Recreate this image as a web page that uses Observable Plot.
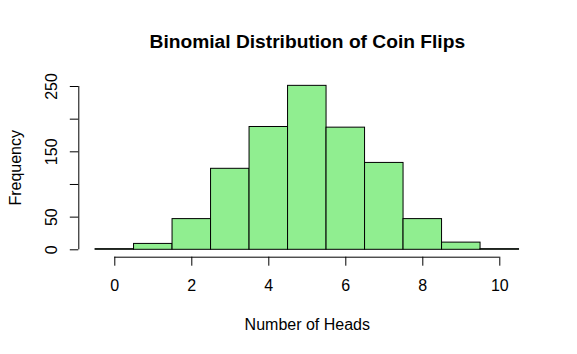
<!DOCTYPE html>
<html><head><meta charset="utf-8">
<script src="https://cdn.jsdelivr.net/npm/d3@7"></script>
<script src="https://cdn.jsdelivr.net/npm/@observablehq/plot@0.6"></script>
<style>body{margin:0;background:#fff}</style>
</head><body><div id="chart"></div>
<script>
const heads = [0, 1, 2, 3, 4, 5, 6, 7, 8, 9, 10];
const frequency = [1, 9, 47, 124, 188, 251, 187, 133, 47, 11, 1];
const xTicks = [0, 2, 4, 6, 8, 10];
const yTicks = [0, 50, 100, 150, 200, 250];
const yLabels = [0, 50, 150, 250];
const title = "Binomial Distribution of Coin Flips";
const xLabel = "Number of Heads";
const yLabel = "Frequency";

const bins = heads.map((h, i) => ({x1: h - 0.5, x2: h + 0.5, count: frequency[i]}));
const font = "'Liberation Sans', Arial, Helvetica, sans-serif";

const chart = Plot.plot({
  width: 577,
  height: 354,
  marginLeft: 78.3,
  marginRight: 41.7,
  marginTop: 47.7,
  marginBottom: 97.3,
  style: {fontFamily: font, fontSize: "16px", color: "black", background: "white"},
  x: {domain: [-0.5, 10.5], range: [95.05, 518.55]},
  y: {domain: [0, 250], range: [249.3, 86]},
  marks: [
    Plot.rectY(bins, {x1: "x1", x2: "x2", y: "count", fill: "#90EE90", stroke: "black", strokeWidth: 1}),
    Plot.ruleY([0], {x1: xTicks[0], x2: xTicks[xTicks.length - 1], dy: 7.4, stroke: "black"}),
    Plot.axisX({ticks: xTicks, tickSize: 9, tickPadding: 13.9, fontSize: 16, label: null, anchor: "bottom", stroke: "black"}),
    Plot.ruleX([-0.5], {y1: yTicks[0], y2: yTicks[yTicks.length - 1], dx: -16.75, stroke: "black"}),
    Plot.axisY({ticks: yTicks, tickSize: 8.5, tickRotate: -90, tickPadding: 13.1,
      tickFormat: d => yLabels.includes(d) ? String(d) : "", fontSize: 16, label: null, anchor: "left", stroke: "black"}),
    Plot.text([title], {frameAnchor: "top", lineAnchor: "bottom", textAnchor: "middle", fontSize: 19.2, fontWeight: "bold", fill: "black"}),
    Plot.text([xLabel], {frameAnchor: "bottom", lineAnchor: "bottom", textAnchor: "middle", dy: 72.6, fontSize: 16, fill: "black"}),
    Plot.text([yLabel], {frameAnchor: "left", rotate: -90, lineAnchor: "bottom", textAnchor: "middle", dx: -57.6, dy: 15.1, fontSize: 16, fill: "black"})
  ]
});
document.getElementById("chart").appendChild(chart);
</script>
</body></html>
